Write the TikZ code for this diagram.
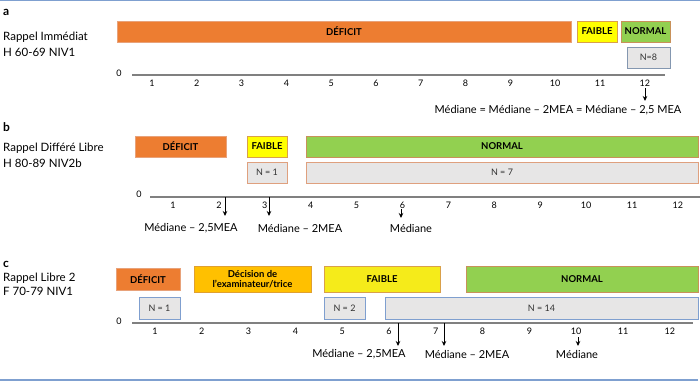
\documentclass[tikz,border=0pt]{standalone}
\usepackage{fontspec}
\setmainfont{Lato}
\usetikzlibrary{arrows.meta}
\definecolor{orangeF}{HTML}{ED7D31}
\definecolor{orangeD}{HTML}{E8A27A}
\definecolor{yellowF}{HTML}{FFFF00}
\definecolor{yellowC}{HTML}{F5EB1A}
\definecolor{yellowD}{HTML}{D9A04A}
\definecolor{greenF}{HTML}{92D050}
\definecolor{greenD}{HTML}{C8915A}
\definecolor{greyF}{HTML}{E7E6E6}
\definecolor{blueD}{HTML}{8497B0}
\definecolor{blueC}{HTML}{7F9FCF}
\definecolor{salmonD}{HTML}{DFA07E}
\definecolor{goldF}{HTML}{FFC000}
\definecolor{goldD}{HTML}{E0A030}
\definecolor{ruleC}{HTML}{7FA0D0}
\definecolor{axisC}{HTML}{808080}
\begin{document}
\begin{tikzpicture}[x=1pt,y=-1pt,
  box/.style={draw, line width=0.9pt, inner sep=0pt, font=\fontsize{9.5}{10}\selectfont\bfseries, text=black},
  defbox/.style={box, fill=orangeF, draw=orangeD},
  faibox/.style={box, fill=yellowF, draw=yellowD},
  norbox/.style={box, fill=greenF, draw=greenD},
  decbox/.style={box, fill=goldF, draw=goldD, font=\fontsize{9.5}{10.5}\selectfont\bfseries, align=center},
  nbox/.style={draw, line width=0.9pt, inner sep=0pt, fill=greyF, font=\fontsize{9}{10}\selectfont, text=black!80},
  axisline/.style={draw=axisC, line width=1.2pt},
  tick/.style={font=\fontsize{9}{10}\selectfont, inner sep=0pt},
  side/.style={font=\fontsize{11.5}{13}\selectfont, anchor=west, inner sep=0pt},
  letter/.style={font=\fontsize{12}{13}\selectfont\bfseries, anchor=west, inner sep=0pt},
  med/.style={font=\fontsize{11}{13}\selectfont, inner sep=0pt},
  marrow/.style={-{Stealth[length=5pt,width=4.5pt]}, line width=0.9pt, black},
  rule/.style={draw=ruleC, line width=1.2pt}
]
\useasboundingbox (0,0) rectangle (700,381);
% rules
\coordinate (rt1) at (0,0.6); \coordinate (rt2) at (700,0.6);
\coordinate (rb1) at (0,380); \coordinate (rb2) at (698,380);
\draw[rule] (rt1) -- (rt2);
\draw[rule] (rb1) -- (rb2);

% ---------- panel a ----------
\node[letter] (la) at (3,12) {a};
\node[side] (sa1) at (3,37) {Rappel Immédiat};
\node[side] (sa2) at (3,52) {H 60-69 NIV1};
\node[defbox, minimum width=454pt, minimum height=21pt] (adef) at (344,31.5) {DÉFICIT};
\node[faibox, minimum width=40pt, minimum height=21pt] (afai) at (597,31.5) {FAIBLE};
\node[norbox, minimum width=49pt, minimum height=21pt] (anor) at (645.5,31.5) {NORMAL};
\node[nbox, draw=blueD, minimum width=43pt, minimum height=21pt] (an) at (648.5,57.5) {N=8};
\coordinate (aL) at (132,75); \coordinate (aR) at (665,75);
\draw[axisline] (aL) -- (aR);
\node[tick] (a0) at (119,73) {0};
\foreach \i in {1,...,12} {
  \node[tick] (at\i) at ({152+(\i-1)*44.8},83) {\i};
}
\coordinate (aa1) at (645,88); \coordinate (aa2) at (645,101);
\draw[marrow] (aa1) -- (aa2);
\node[med] (amed) at (558,110) {Médiane = Médiane – 2MEA = Médiane – 2,5 MEA};

% ---------- panel b ----------
\node[letter] (lb) at (3,127) {b};
\node[side] (sb1) at (3,148) {Rappel Différé Libre};
\node[side] (sb2) at (3,163) {H 80-89 NIV2b};
\node[defbox, minimum width=91pt, minimum height=21pt] (bdef) at (180.5,146.5) {DÉFICIT};
\node[faibox, minimum width=40pt, minimum height=21pt] (bfai) at (267,146.5) {FAIBLE};
\node[norbox, minimum width=392pt, minimum height=21pt] (bnor) at (502,146.5) {NORMAL};
\node[nbox, draw=salmonD, minimum width=40pt, minimum height=21pt] (bn1) at (267,172.5) {N = 1};
\node[nbox, draw=salmonD, minimum width=392pt, minimum height=21pt] (bn7) at (502,172.5) {N = 7};
\coordinate (bL) at (150,197); \coordinate (bR) at (700,197);
\draw[axisline] (bL) -- (bR);
\node[tick] (b0) at (139,194) {0};
\foreach \i in {1,...,12} {
  \node[tick] (bt\i) at ({173+(\i-1)*45.9},205) {\i};
}
\coordinate (ba1s) at (225,197); \coordinate (ba1e) at (225,216);
\coordinate (ba2s) at (269,197); \coordinate (ba2e) at (269,216);
\coordinate (ba3s) at (401,209); \coordinate (ba3e) at (401,218);
\draw[marrow] (ba1s) -- (ba1e);
\draw[marrow] (ba2s) -- (ba2e);
\draw[marrow] (ba3s) -- (ba3e);
\node[med] (bm1) at (191,228) {Médiane – 2,5MEA};
\node[med] (bm2) at (300,228) {Médiane – 2MEA};
\node[med] (bm3) at (411,228) {Médiane};

% ---------- panel c ----------
\node[letter] (lc) at (3,264) {c};
\node[side] (sc1) at (3,278) {Rappel Libre 2};
\node[side] (sc2) at (3,291) {F 70-79 NIV1};
\node[defbox, minimum width=64pt, minimum height=22pt] (cdef) at (148,279) {DÉFICIT};
\node[decbox, minimum width=117pt, minimum height=26pt] (cdec) at (252.5,279) {Décision de\\l’examinateur/trice};
\node[faibox, fill=yellowC, minimum width=116pt, minimum height=26pt] (cfai) at (382,279) {FAIBLE};
\node[norbox, minimum width=232pt, minimum height=26pt] (cnor) at (582,279) {NORMAL};
\node[nbox, draw=blueC, minimum width=41pt, minimum height=22pt] (cn1) at (159.5,308) {N = 1};
\node[nbox, draw=blueC, minimum width=41pt, minimum height=22pt] (cn2) at (344.5,308) {N = 2};
\node[nbox, draw=blueC, minimum width=313pt, minimum height=22pt] (cn14) at (541.5,308) {N = 14};
\coordinate (cL) at (132,323); \coordinate (cR) at (693,323);
\draw[axisline] (cL) -- (cR);
\node[tick] (c0) at (119,321) {0};
\foreach \i in {1,...,12} {
  \node[tick] (ct\i) at ({155+(\i-1)*46.8},331) {\i};
}
\coordinate (ca1s) at (398,323); \coordinate (ca1e) at (398,346);
\coordinate (ca2s) at (444,323); \coordinate (ca2e) at (444,346);
\coordinate (ca3s) at (578,337); \coordinate (ca3e) at (578,346);
\draw[marrow] (ca1s) -- (ca1e);
\draw[marrow] (ca2s) -- (ca2e);
\draw[marrow] (ca3s) -- (ca3e);
\node[med] (cm1) at (359,354) {Médiane – 2,5MEA};
\node[med] (cm2) at (467,354) {Médiane – 2MEA};
\node[med] (cm3) at (577,354) {Médiane};
\end{tikzpicture}
\end{document}
